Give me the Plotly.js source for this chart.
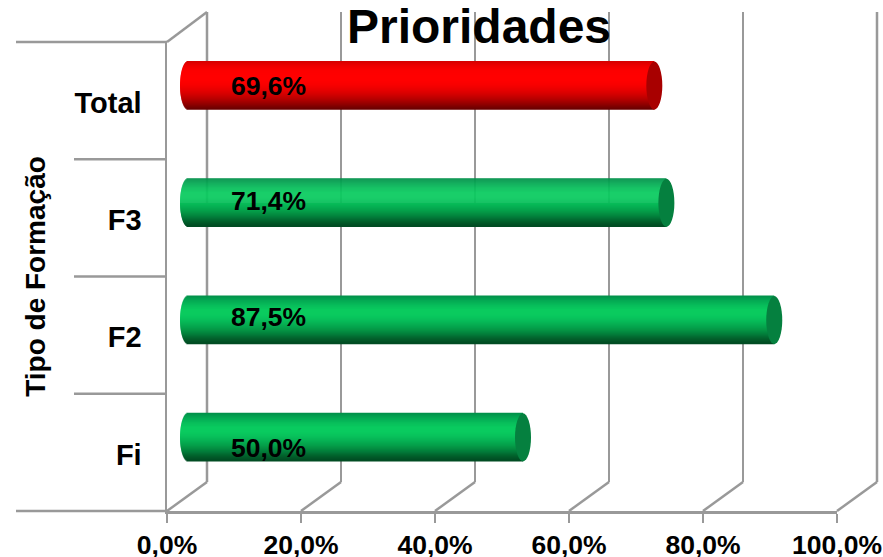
<!DOCTYPE html>
<html>
<head>
<meta charset="utf-8">
<script src="https://cdn.plot.ly/plotly-3.0.1.min.js"></script>
<style>html,body{margin:0;padding:0;background:#fff}#chart{width:883px;height:557px}</style>
</head>
<body>
<div id="chart"></div>
<script>
const categories = ['Fi', 'F2', 'F3', 'Total'];
const values = [50.0, 87.5, 71.4, 69.6];
const valueTicks = [0, 20, 40, 60, 80, 100];
const chartTitle = 'Prioridades';
const categoryTitle = 'Tipo de Formação';

const greenShades = ['#028e49','#04a853','#07bc5a','#0acb5f','#0acb5f','#08c05b','#06ae52','#049a47','#037f3b','#02602c','#014a22'];
const redShades = ['#d40000','#ee0000','#fc0000','#ff0000','#ff0000','#f80000','#e80000','#d20000','#b40000','#900000','#680000'];
const capGreen = '#05803f', capRed = '#a80000';
const gridGrey = '#999999', font = 'Liberation Sans, Arial, sans-serif';

const W = 883, H = 557;
const fx0 = 167, fx1 = 837, fy0 = 42, fy1 = 511;   // front plane, pixels
const depthX = 40, depthY = 30, barPlaneX = 21, barPlaneY = 15;
const pxPerUnit = (fx1 - fx0) / 100;
const dx = v => v / W, dy = v => 1 - v / H;

const barWidth = 0.41, strips = 48, capRadius = 8 / pxPerUnit;
const isTotal = c => c === 'Total';
const toRgb = h => [1, 3, 5].map(k => parseInt(h.slice(k, k + 2), 16));
const shade = (arr, t) => {
  const p = t * (arr.length - 1), k = Math.min(arr.length - 2, Math.floor(p)), f = p - k;
  const a = toRgb(arr[k]), b = toRgb(arr[k + 1]);
  return 'rgb(' + a.map((c, n) => Math.round(c + (b[n] - c) * f)).join(',') + ')';
};

const traces = [];
// invisible anchors for the wall and the front axes
traces.push({type:'scatter', mode:'none', x:values, y:categories, xaxis:'x', yaxis:'y', hoverinfo:'skip', showlegend:false});

for (let i = 0; i < strips; i++) {
  const t = (i + 0.5) / strips;
  const round = capRadius * Math.sqrt(1 - Math.pow(2 * t - 1, 2));
  traces.push({
    type:'bar', orientation:'h', xaxis:'x2', yaxis:'y2', showlegend:false, hoverinfo:'skip',
    y:categories, x:values.map(v => v + round), base:categories.map(() => -round),
    width:categories.map(() => barWidth / strips * 1.6),
    offset:categories.map(() => barWidth / 2 - (i + 1) * barWidth / strips),
    marker:{color:categories.map(c => shade(isTotal(c) ? redShades : greenShades, t)), line:{width:0}}
  });
}
traces.push({type:'scatter', mode:'none', x:values, y:categories, xaxis:'x3', yaxis:'y3', hoverinfo:'skip', showlegend:false});

const line = (x0, y0, x1, y1) => ({type:'line', xref:'paper', yref:'paper', x0:dx(x0), y0:dy(y0), x1:dx(x1), y1:dy(y1), layer:'below', line:{color:gridGrey, width:2.5}});
const shapes = [];
// floor diagonals
valueTicks.forEach(v => {
  const px = fx0 + v * pxPerUnit;
  shapes.push(line(px, fy1, px + depthX, fy1 - depthY + 1));
});
// wall edges the grid leaves out, and the top diagonal
shapes.push(line(fx0 + depthX, fy0 - depthY, fx0 + depthX, fy1 - depthY + 1));
shapes.push(line(fx1 + depthX, fy0 - depthY, fx1 + depthX, fy1 - depthY + 1));
shapes.push(line(fx0, fy0, fx0 + depthX, fy0 - depthY));
// category separators to the left of the axis
categories.concat(['']).forEach((c, i) => {
  const py = fy1 - i * (fy1 - fy0) / categories.length;
  const outer = (i === 0 || i === categories.length);
  shapes.push(line(outer ? 16 : 74, py, fx0, py));
});
// end caps of the cylinders
categories.forEach((c, i) => {
  shapes.push({type:'circle', xref:'x2', yref:'y2', layer:'above',
    x0:values[i] - capRadius, x1:values[i] + capRadius,
    y0:i - barWidth / 2, y1:i + barWidth / 2,
    fillcolor:isTotal(c) ? capRed : capGreen, line:{width:0}});
});

const labelShift = {Fi:-11, F2:3, F3:2, Total:0};
const annotations = categories.map((c, i) => ({
  xref:'x2', yref:'y2', x:12.0, y:c, yshift:labelShift[c],
  text:values[i].toFixed(1).replace('.', ',') + '%', showarrow:false,
  font:{family:font, size:26.5, color:'#000', weight:700}
}));

const layout = {
  width:W, height:H, autosize:false, margin:{l:0, r:0, t:0, b:0},
  paper_bgcolor:'#fff', plot_bgcolor:'rgba(0,0,0,0)', barmode:'overlay',
  showlegend:false, shapes, annotations,
  title:{text:'<b>' + chartTitle + '</b>', x:479 / W, xanchor:'center', xref:'paper', y:dy(26), yanchor:'middle', yref:'container',
    font:{family:font, size:48, color:'#000'}},
  // back wall
  xaxis:{domain:[dx(fx0 + depthX), dx(fx1 + depthX)], range:[0, 100], anchor:'y', tickvals:valueTicks, showgrid:true, gridcolor:gridGrey, gridwidth:2.5, zeroline:false, showline:false, showticklabels:false, ticks:''},
  yaxis:{domain:[dy(fy1 - depthY + 1), dy(fy0 - depthY)], type:'category', categoryarray:categories, range:[-0.5, 3.5], anchor:'x', showgrid:false, zeroline:false, showline:false, showticklabels:false, ticks:''},
  // bars plane
  xaxis2:{domain:[dx(fx0 + barPlaneX - 5 * pxPerUnit), dx(fx1 + barPlaneX)], range:[-5, 100], anchor:'y2', visible:false},
  yaxis2:{domain:[dy(fy1 - barPlaneY), dy(fy0 - barPlaneY)], type:'category', categoryarray:categories, range:[-0.5, 3.5], anchor:'x2', visible:false},
  // front axes
  xaxis3:{domain:[dx(fx0), dx(fx1)], range:[0, 100], anchor:'y3', tickmode:'array', tickvals:valueTicks,
    ticktext:valueTicks.map(v => v.toFixed(1).replace('.', ',') + '%'), showgrid:false, zeroline:false,
    showline:true, linecolor:gridGrey, linewidth:2.5, ticks:'outside', ticklen:9, tickwidth:2.5, tickcolor:gridGrey, ticklabelstandoff:0,
    tickfont:{family:font, size:26.5, color:'#000', weight:700}},
  yaxis3:{domain:[dy(fy1), dy(fy0)], type:'category', categoryarray:categories, range:[-0.5, 3.5], anchor:'x3', showgrid:false, zeroline:false,
    showline:true, linecolor:gridGrey, linewidth:2.5, ticks:'', ticklabelstandoff:17, ticklabelshift:2,
    tickfont:{family:font, size:29, color:'#000', weight:700},
    title:{text:'<b>' + categoryTitle + '</b>', standoff:21, font:{family:font, size:28, color:'#000'}}}
};
Plotly.newPlot('chart', traces, layout, {displayModeBar:false, staticPlot:true});
</script>
</body>
</html>
